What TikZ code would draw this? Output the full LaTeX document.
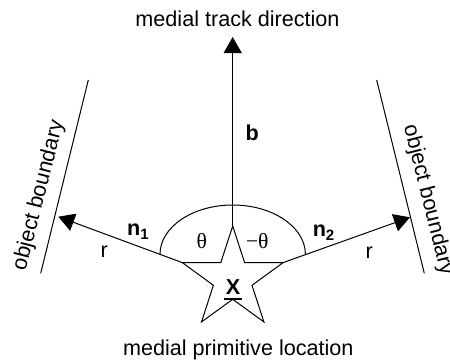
\documentclass[tikz,border=0pt]{standalone}
\usepackage{fontspec}
\setmainfont{Liberation Sans}
\newfontfamily\grk{Liberation Serif}
\usetikzlibrary{arrows.meta}
\begin{document}
\begin{tikzpicture}[x=0.5pt, y=-0.5pt, line width=0.5pt,
  lbl/.style={inner sep=0pt, font=\fontsize{10.8}{13}\selectfont},
  vec/.style={-{Triangle[length=8pt,width=9pt]}},
  bnd/.style={line width=0.5pt}]
\useasboundingbox (0,0) rectangle (450,361);
% star vertices
\coordinate (s0) at (232.7,226);
\coordinate (i1) at (220.8,262.6);
\coordinate (s1) at (182.3,262.6);
\coordinate (i2) at (213.4,285.3);
\coordinate (s2) at (201.5,321.9);
\coordinate (i3) at (232.7,299.3);
\coordinate (s3) at (263.9,321.9);
\coordinate (i4) at (252.0,285.3);
\coordinate (s4) at (283.1,262.6);
\coordinate (i5) at (244.6,262.6);
\draw (s0) -- (i1) -- (s1) -- (i2) -- (s2) -- (i3) -- (s3) -- (i4) -- (s4) -- (i5) -- cycle;
% arrow tips
\coordinate (tb) at (232.7,37);
\coordinate (t1) at (58.3,216.7);
\coordinate (t2) at (410,217.3);
\draw[vec] (s0) -- (tb);
\draw[vec] (s1) -- (t1);
\draw[vec] (s4) -- (t2);
% angle arcs
\coordinate (a1) at (160,254.3);
\draw (a1) arc[start angle=180, end angle=270, x radius=72.7, y radius=49.3]
      arc[start angle=270, end angle=360, x radius=72.7, y radius=49.3];
% boundaries
\coordinate (l1) at (88.3,80);
\coordinate (l2) at (40.7,273.3);
\coordinate (r1) at (376.7,80);
\coordinate (r2) at (424.3,273.3);
\draw[bnd] (l1) -- (l2);
\draw[bnd] (r1) -- (r2);
% labels
\node[lbl, anchor=base] (title) at (237.5,26) {medial track direction};
\node[lbl, anchor=base] (bottom) at (238.3,355) {medial primitive location};
\node[lbl, anchor=base west] (b) at (245,140) {\textbf{b}};
\node[lbl, anchor=base west] (n1) at (126.7,235.5) {\textbf{n}\raisebox{-0.35ex}{\fontsize{7.5}{8}\selectfont\textbf{1}}};
\node[lbl, anchor=base west] (n2) at (312.3,236.7) {\textbf{n}\raisebox{-0.35ex}{\fontsize{7.5}{8}\selectfont\textbf{2}}};
\node[lbl, anchor=base west] (r1l) at (100,257.7) {r};
\node[lbl, anchor=base west] (r2l) at (365,258.3) {r};
\node[lbl] (th1) at (201.7,240.7) {\grk θ};
\node[lbl] (th2) at (257.3,240.7) {\grk −θ};
\node[lbl, anchor=base, font=\fontsize{10.8}{13}\selectfont\bfseries] (X) at (233,294) {X};
\draw[line width=1pt] ([shift={(-9,4.5)}]X.base) -- ([shift={(9,4.5)}]X.base);
\node[lbl, rotate=75.7] (ob1) at (39,195.5) {object boundary};
\node[lbl, rotate=-76] (ob2) at (428,200) {object boundary};
\end{tikzpicture}
\end{document}
